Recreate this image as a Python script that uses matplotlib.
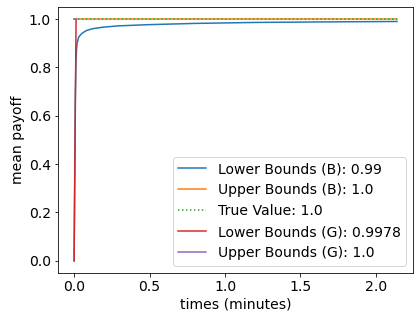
import matplotlib
matplotlib.use('Agg')
import matplotlib.pyplot as plt

plt.rcParams['font.size'] = 14

# lower bound (B) over time
lb_b_t = [0, 0.004, 0.008, 0.012, 0.016, 0.02, 0.03, 0.05, 0.08, 0.12, 0.2, 0.3, 0.5, 0.8, 1.2, 1.6, 2.14]
lb_b_y = [0, 0.35, 0.68, 0.82, 0.875, 0.9, 0.925, 0.94, 0.952, 0.96, 0.967, 0.972, 0.977, 0.982, 0.986, 0.988, 0.99]

ub_b_t = [0, 2.14]
ub_b_y = [1.0, 1.0]

true_t = [0, 2.14]
true_y = [1.0, 1.0]

lb_g_t = [0, 0.013]
lb_g_y = [0, 0.9978]

ub_g_t = [0, 0.013]
ub_g_y = [1.0, 1.0]

fig = plt.figure(figsize=(414 / 72, 317 / 72), dpi=72)
ax = fig.add_axes([0.140, 0.139, 0.858, 0.839])
ax.plot(lb_b_t, lb_b_y, color='C0', label='Lower Bounds (B): 0.99')
ax.plot(ub_b_t, ub_b_y, color='C1', label='Upper Bounds (B): 1.0')
ax.plot(true_t, true_y, color='C2', linestyle=':', label='True Value: 1.0')
ax.plot(lb_g_t, lb_g_y, color='C3', label='Lower Bounds (G): 0.9978')
ax.plot(ub_g_t, ub_g_y, color='C4', label='Upper Bounds (G): 1.0')
ax.set_xlabel('times (minutes)')
ax.set_ylabel('mean payoff')
ax.legend(loc='lower right')
fig.savefig('out.png', dpi=72)
